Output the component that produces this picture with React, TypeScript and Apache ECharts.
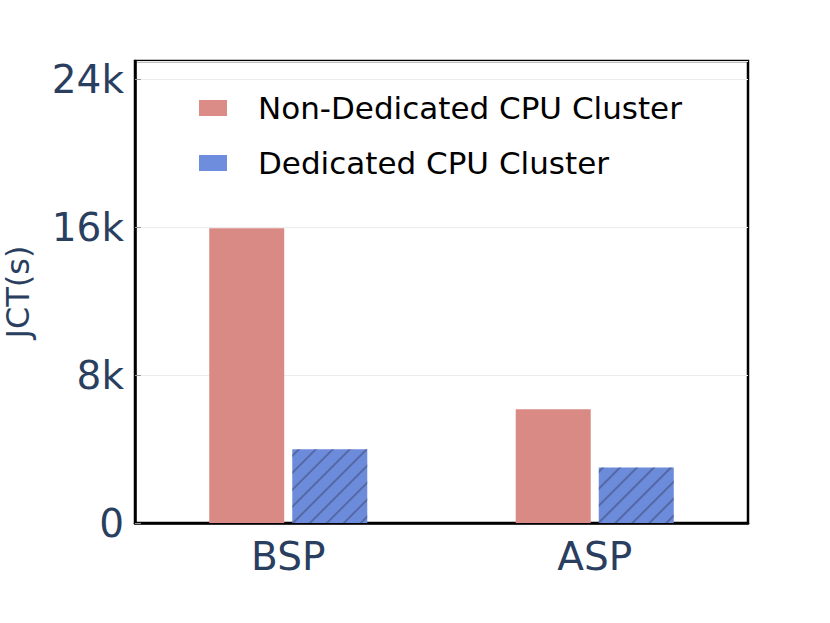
import React, { useEffect, useRef } from "react";
import * as echarts from "echarts";

const categories = ["BSP", "ASP"];
const nonDedicated = [15950, 6150];
const dedicated = [3990, 3000];
const seriesNames = ["Non-Dedicated CPU Cluster", "Dedicated CPU Cluster"];
const yTicks = [0, 8000, 16000, 24000];

const FONT = "DejaVu Sans";
const AXIS_COLOR = "#2a3f5f";

export default function App() {
  const ref = useRef<HTMLDivElement>(null);
  useEffect(() => {
    document.body.style.margin = "0";
    const chart = echarts.init(ref.current!, undefined, { renderer: "svg" });
    chart.setOption({
      animation: false,
      textStyle: { fontFamily: FONT },
      grid: {
        left: 135,
        right: 82,
        top: 61,
        bottom: 100,
        show: true,
        borderColor: "#000",
        borderWidth: 2.5,
        backgroundColor: "transparent",
        containLabel: false,
        outerBoundsMode: "none",
      },
      legend: {
        orient: "vertical",
        left: 199,
        top: 91,
        padding: 0,
        icon: "rect",
        itemWidth: 28,
        itemHeight: 16,
        itemGap: 21,
        textStyle: {
          fontSize: 31,
          color: "#000",
          fontFamily: FONT,
          lineHeight: 34,
          padding: [0, 0, 0, 26],
        },
        data: [
          { name: seriesNames[0], itemStyle: { color: "#dc8c86", decal: "none" } },
          { name: seriesNames[1], itemStyle: { color: "#6e8ddd", decal: "none" } },
        ],
      },
      xAxis: {
        type: "category",
        data: categories,
        axisLine: { lineStyle: { color: "#000", width: 2.5 } },
        axisTick: { show: false },
        axisLabel: { fontSize: 39, color: AXIS_COLOR, margin: 14, fontFamily: FONT },
      },
      yAxis: {
        type: "value",
        min: 0,
        max: 25000,
        interval: 8000,
        name: "JCT(s)",
        nameLocation: "middle",
        nameGap: 101,
        nameTextStyle: { fontSize: 32, color: AXIS_COLOR, fontFamily: FONT },
        axisLine: { show: true, lineStyle: { color: "#000", width: 2.5 } },
        axisTick: { show: true, inside: true, length: 6, lineStyle: { color: "#999" } },
        axisLabel: {
          fontSize: 39,
          color: AXIS_COLOR,
          margin: 11,
          showMaxLabel: false,
          fontFamily: FONT,
          formatter: (v: number) => (yTicks.includes(v) ? (v === 0 ? "0" : v / 1000 + "k") : ""),
        },
        splitLine: { lineStyle: { color: "#ececec", width: 1 } },
      },
      series: [
        {
          name: seriesNames[0],
          type: "bar",
          data: nonDedicated,
          barWidth: 75,
          barGap: "10.7%",
          itemStyle: { color: "#d98a84" },
        },
        {
          name: seriesNames[1],
          type: "bar",
          data: dedicated,
          barWidth: 75,
          itemStyle: {
            color: "#6c8bdb",
            decal: {
              symbol: "rect",
              symbolSize: 1,
              color: "rgba(60,70,110,0.5)",
              dashArrayX: [1, 0],
              dashArrayY: [2, 10],
              rotation: -Math.PI / 4,
            },
          },
        },
      ],
    });
    return () => chart.dispose();
  }, []);
  return <div ref={ref} style={{ width: 830, height: 623 }} />;
}
